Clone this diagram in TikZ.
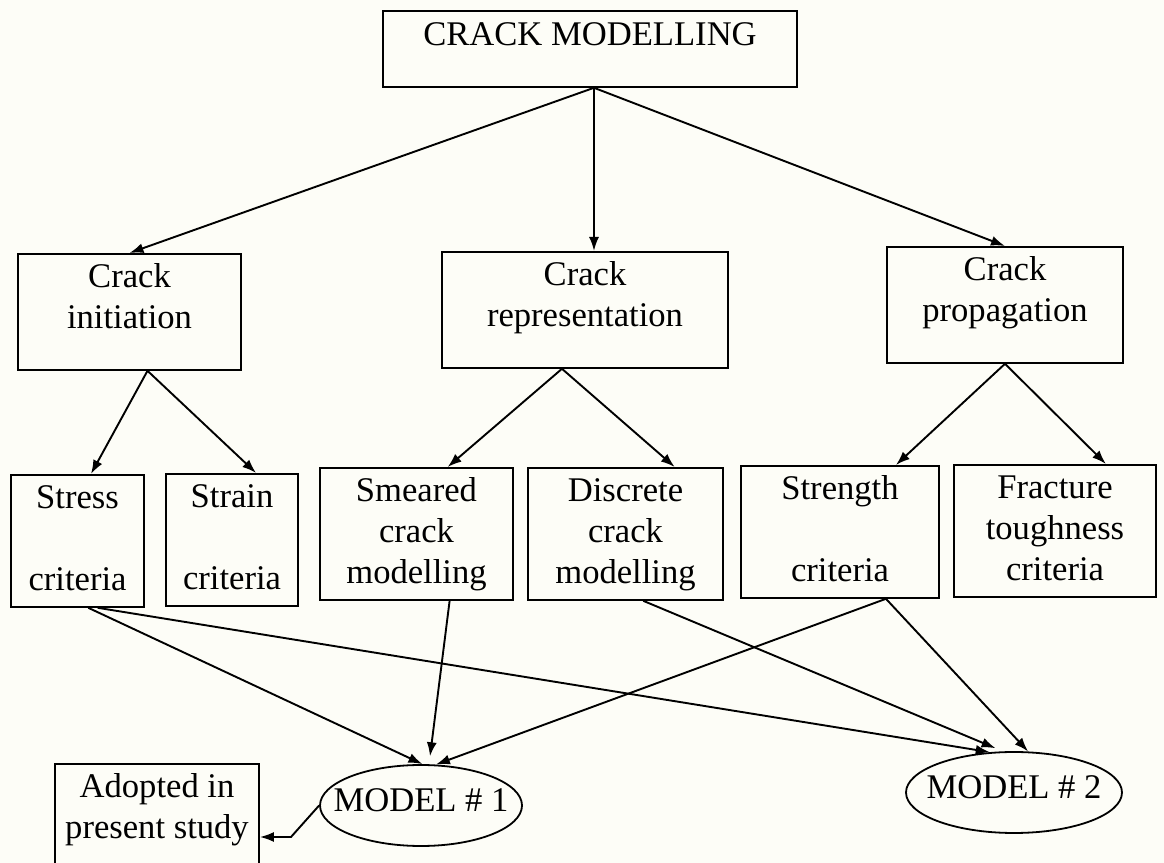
\documentclass[tikz,border=0pt]{standalone}
\usepackage{fontspec}
\setmainfont{Liberation Serif}
\usetikzlibrary{shapes.geometric,arrows.meta,calc}
\definecolor{paper}{RGB}{253,253,247}

\begin{document}
\begin{tikzpicture}[x=.5pt,y=.5pt,
  every node/.style={draw,line width=.9pt,inner sep=0pt,align=center,font=\fontsize{17.3}{20.5}\selectfont},
  head/.style={rectangle,text height=17.5pt,text depth=20.5pt},
  branch/.style={rectangle,text height=37.5pt,text depth=20.5pt},
  leaf/.style={rectangle,text height=58pt,text depth=8pt},
  model/.style={ellipse,minimum height=40.5pt,text height=6pt,text depth=0pt},
  link/.style={line width=.95pt,-{Latex[length=7pt,width=5pt]}}]
\clip (0,0) rectangle (1164,863);
\fill[paper] (0,0) rectangle (1164,863);

\node[head,minimum width=207pt,anchor=north] (crack) at (590,853) {CRACK MODELLING};

\node[branch,minimum width=111.5pt,anchor=north] (init) at (129.5,610) {Crack\\initiation};
\node[branch,minimum width=143pt,anchor=north] (repr) at (585,612) {Crack\\representation};
\node[branch,minimum width=118pt,anchor=north] (prop) at (1005,617) {Crack\\propagation};

\node[leaf,minimum width=66.5pt,anchor=north] (stress) at (77.5,389) {Stress\\{}\\criteria};
\node[leaf,minimum width=66pt,anchor=north] (strain) at (232,390) {Strain\\{}\\criteria};
\node[leaf,minimum width=96.5pt,anchor=north] (smeared) at (416.5,396) {Smeared\\crack\\modelling};
\node[leaf,minimum width=97.5pt,anchor=north] (discrete) at (625.5,396) {Discrete\\crack\\modelling};
\node[leaf,minimum width=99pt,anchor=north] (strength) at (840,398) {Strength\\{}\\criteria};
\node[leaf,minimum width=101pt,anchor=north] (fracture) at (1055,399) {Fracture\\toughness\\criteria};

\node[model,minimum width=101pt] (model1) at (421,57.5) {\makebox[0pt]{MODEL \# 1}};
\node[model,minimum width=108pt] (model2) at (1014,70.5) {\makebox[0pt]{MODEL \# 2}};
\node[branch,minimum width=102pt,text depth=21pt,anchor=north] (adopted) at (157,100) {Adopted in\\present study};

\coordinate (topfork) at ([xshift=2pt]crack.south);
\draw[link] (topfork) -- (init.north);
\draw[link] (topfork) -- (topfork |- repr.north);
\draw[link] (topfork) -- (prop.north);

\coordinate (initfork) at ([xshift=9pt]init.south);
\draw[link] (initfork) -- ($(stress.north west)!.6!(stress.north east)$);
\draw[link] (initfork) -- ($(strain.north west)!.68!(strain.north east)$);

\coordinate (reprfork) at ($(repr.south west)!.42!(repr.south east)$);
\draw[link] (reprfork) -- ($(smeared.north west)!.66!(smeared.north east)$);
\draw[link] (reprfork) -- ($(discrete.north west)!.75!(discrete.north east)$);

\draw[link] (prop.south) -- ($(strength.north west)!.78!(strength.north east)$);
\draw[link] (prop.south) -- ($(fracture.north west)!.75!(fracture.north east)$);

\draw[link] ($(stress.south west)!.58!(stress.south east)$) -- (model1.88);
\draw[link] ($(stress.south west)!.65!(stress.south east)$) -- (model2.121);
\draw[link,shorten >=4pt] ($(smeared.south west)!.67!(smeared.south east)$) -- (model1.79);
\draw[link,shorten >=4pt] ($(discrete.south west)!.59!(discrete.south east)$) -- (model2.105);
\draw[link] ($(strength.south west)!.73!(strength.south east)$) -- (model1.70);
\draw[link] ($(strength.south west)!.73!(strength.south east)$) -- (model2.71);

\coordinate (elbow) at (291,26);
\draw[link] (model1.west) -- (elbow) -- (elbow -| adopted.east);
\end{tikzpicture}
\end{document}
